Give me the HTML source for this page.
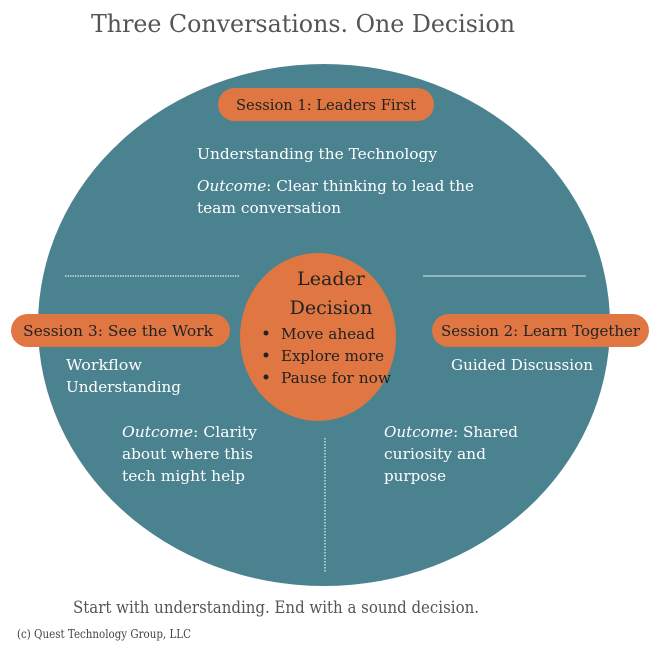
<!DOCTYPE html>
<html><head><meta charset="utf-8"><style>body{margin:0;background:#fff}svg{display:block}text{font-family:"DejaVu Serif","Liberation Serif",serif}</style></head><body>
<svg width="650" height="650" viewBox="0 0 650 650" xmlns="http://www.w3.org/2000/svg">
<text x="303" y="32" font-size="24" fill="#555" text-anchor="middle" textLength="424" lengthAdjust="spacingAndGlyphs">Three Conversations. One Decision</text>
<ellipse cx="324" cy="325" rx="286" ry="261" fill="#4a8290"/>
<line x1="65" y1="276" x2="240" y2="276" stroke="#c8dde2" stroke-width="1.5" stroke-dasharray="1.5 1"/>
<line x1="423" y1="276" x2="586" y2="276" stroke="#a9c8cf" stroke-width="1.5"/>
<line x1="325" y1="438" x2="325" y2="572" stroke="#c8dde2" stroke-width="1.5" stroke-dasharray="1.5 1.5"/>
<ellipse cx="318" cy="337" rx="78" ry="84" fill="#e07642"/>
<rect x="218" y="88" width="216" height="33" rx="16.5" fill="#e07642"/>
<rect x="11" y="314" width="219" height="33" rx="16.5" fill="#e07642"/>
<rect x="432" y="314" width="217" height="33" rx="16.5" fill="#e07642"/>
<g fill="#222" font-size="14.5">
<text x="236" y="110" textLength="180" lengthAdjust="spacingAndGlyphs">Session 1: Leaders First</text>
<text x="23" y="336" textLength="190" lengthAdjust="spacingAndGlyphs">Session 3: See the Work</text>
<text x="441" y="336" textLength="199" lengthAdjust="spacingAndGlyphs">Session 2: Learn Together</text>
</g>
<g fill="#222" text-anchor="middle" font-size="19">
<text x="331" y="285">Leader</text>
<text x="331" y="314">Decision</text>
</g>
<g fill="#222" font-size="15">
<circle cx="266" cy="333" r="2.5"/><text x="281" y="339" textLength="94" lengthAdjust="spacingAndGlyphs">Move ahead</text>
<circle cx="266" cy="355" r="2.5"/><text x="281" y="361" textLength="103" lengthAdjust="spacingAndGlyphs">Explore more</text>
<circle cx="266" cy="377" r="2.5"/><text x="281" y="383" textLength="110" lengthAdjust="spacingAndGlyphs">Pause for now</text>
</g>
<g fill="#fff" font-size="14.5">
<text x="197" y="159" textLength="240" lengthAdjust="spacingAndGlyphs">Understanding the Technology</text>
<text x="197" y="191" textLength="277" lengthAdjust="spacingAndGlyphs"><tspan font-style="italic">Outcome</tspan>: Clear thinking to lead the</text>
<text x="197" y="213" textLength="144" lengthAdjust="spacingAndGlyphs">team conversation</text>
<text x="66" y="370" textLength="76" lengthAdjust="spacingAndGlyphs">Workflow</text>
<text x="66" y="392" textLength="115" lengthAdjust="spacingAndGlyphs">Understanding</text>
<text x="451" y="370" textLength="142" lengthAdjust="spacingAndGlyphs">Guided Discussion</text>
<text x="122" y="437" textLength="135" lengthAdjust="spacingAndGlyphs"><tspan font-style="italic">Outcome</tspan>:  Clarity</text>
<text x="122" y="459" textLength="131" lengthAdjust="spacingAndGlyphs">about where this</text>
<text x="122" y="481" textLength="123" lengthAdjust="spacingAndGlyphs">tech might help</text>
<text x="384" y="437" textLength="134" lengthAdjust="spacingAndGlyphs"><tspan font-style="italic">Outcome</tspan>: Shared</text>
<text x="384" y="459" textLength="102" lengthAdjust="spacingAndGlyphs">curiosity and</text>
<text x="384" y="481" textLength="62" lengthAdjust="spacingAndGlyphs">purpose</text>
</g>
<text x="73" y="613" font-size="17" fill="#555" textLength="406" lengthAdjust="spacingAndGlyphs">Start with understanding. End with a sound decision.</text>
<text x="17" y="638" font-size="12" fill="#444" textLength="174" lengthAdjust="spacingAndGlyphs">(c) Quest Technology Group, LLC</text>
</svg>
</body></html>
